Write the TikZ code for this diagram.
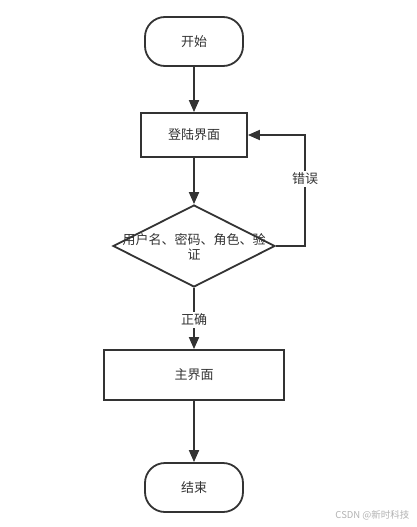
\documentclass[tikz,border=0pt]{standalone}
\usepackage{fontspec}
\setmainfont{Noto Sans CJK SC}
\usetikzlibrary{shapes.geometric,arrows.meta}
\definecolor{ln}{HTML}{333333}
\tikzset{
  txt/.style={font=\fontsize{13}{15}\selectfont, text=ln},
  box/.style={draw=ln, line width=1.8pt, fill=white, minimum width=#1, inner sep=0pt, txt},
  term/.style={draw=ln, line width=1.8pt, fill=white, rounded corners=20pt, minimum width=98pt, minimum height=49pt, txt},
  flow/.style={draw=ln, line width=1.8pt, -{Triangle[length=12pt,width=10pt]}},
  lbl/.style={fill=white, txt, inner sep=2pt},
}
\begin{document}
\begin{tikzpicture}[x=1pt,y=-1pt]
\useasboundingbox (0,0) rectangle (416,527);
\node[term] (start) at (194,41.5) {开始};
\node[box=106pt, minimum height=44pt] (login) at (194,135) {登陆界面};
\node[draw=ln, line width=1.8pt, diamond, aspect=1.976, minimum width=162pt, minimum height=82pt, inner sep=0pt] (check) at (194,246) {};
\node[txt, align=center] (checktxt) at (194,247) {用户名、密码、角色、验\\证};
\node[box=180pt, minimum height=50pt] (main) at (194,375) {主界面};
\node[term] (end) at (194,487.5) {结束};
\coordinate (r1) at (305,246);
\coordinate (r2) at (305,135);
\draw[flow] (start) -- (login);
\draw[flow] (login) -- (check);
\draw[flow] (check) -- (main) node[lbl, pos=0.52] (ok) {正确};
\draw[flow] (check.east) -- (r1) -- (r2) -- (login.east);
\node[lbl] (err) at (305,179) {错误};
\draw[flow] (main) -- (end);
\node[text=gray!60, font=\fontsize{9.5}{11}\selectfont, anchor=east] (wm) at (413,515) {CSDN @新时科技};
\end{tikzpicture}
\end{document}
